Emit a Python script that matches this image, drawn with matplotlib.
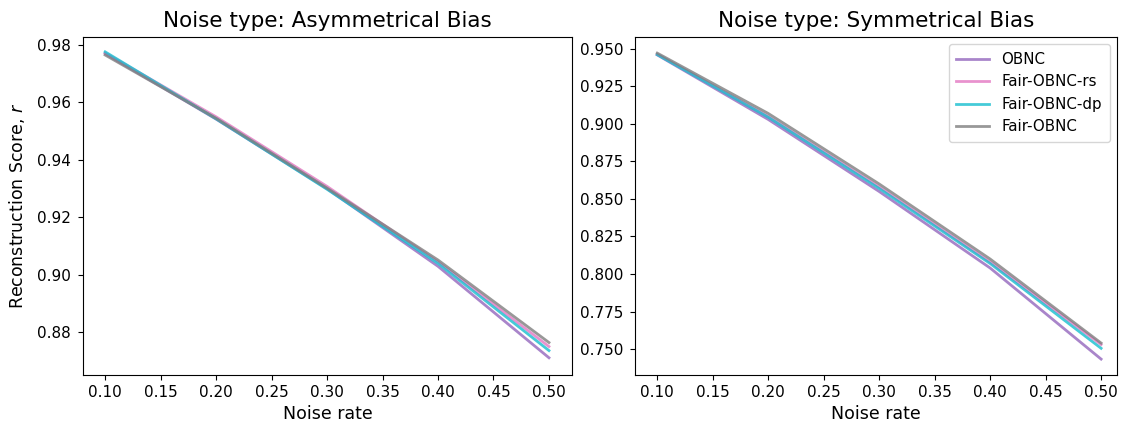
import matplotlib
matplotlib.use("Agg")
import matplotlib.pyplot as plt
from matplotlib.ticker import FormatStrFormatter

noise_rates = [0.1, 0.2, 0.3, 0.4, 0.5]
methods = ["OBNC", "Fair-OBNC-rs", "Fair-OBNC-dp", "Fair-OBNC"]
colors = ["tab:purple", "tab:pink", "tab:cyan", "tab:gray"]

x_ticks = [0.10, 0.15, 0.20, 0.25, 0.30, 0.35, 0.40, 0.45, 0.50]
asym_ticks = [0.88, 0.90, 0.92, 0.94, 0.96, 0.98]
sym_ticks = [0.750, 0.775, 0.800, 0.825, 0.850, 0.875, 0.900, 0.925, 0.950]

# Reconstruction scores, asymmetrical bias
asym_obnc = [0.9770, 0.9542, 0.9300, 0.9030, 0.8712]
asym_rs = [0.9772, 0.9550, 0.9308, 0.9045, 0.8751]
asym_dp = [0.9776, 0.9543, 0.9298, 0.9040, 0.8737]
asym_fair = [0.9765, 0.9545, 0.9302, 0.9052, 0.8765]

# Reconstruction scores, symmetrical bias
sym_obnc = [0.9460, 0.9030, 0.8550, 0.8040, 0.7433]
sym_rs = [0.9465, 0.9050, 0.8580, 0.8080, 0.7530]
sym_dp = [0.9462, 0.9045, 0.8570, 0.8070, 0.7505]
sym_fair = [0.9472, 0.9070, 0.8600, 0.8100, 0.7540]

fig = plt.figure(figsize=(11.21, 4.28), dpi=100)
ax1 = fig.add_axes([0.074, 0.1238, 0.4362, 0.790])
ax2 = fig.add_axes([0.5665, 0.1238, 0.430, 0.790])

panels = [
    (ax1, "Noise type: Asymmetrical Bias", [asym_obnc, asym_rs, asym_dp, asym_fair]),
    (ax2, "Noise type: Symmetrical Bias", [sym_obnc, sym_rs, sym_dp, sym_fair]),
]

for ax, title, series in panels:
    for name, color, vals in zip(methods, colors, series):
        ax.plot(noise_rates, vals, color=color, lw=2, alpha=0.8, label=name)
    ax.set_title(title, fontsize=15.5, pad=7)
    ax.set_xlabel("Noise rate", fontsize=12.5, labelpad=4)
    ax.set_xticks(x_ticks)
    ax.xaxis.set_major_formatter(FormatStrFormatter("%.2f"))
    ax.tick_params(labelsize=11)
    ax.tick_params(axis="y", pad=5)

ax1.set_yticks(asym_ticks)
ax2.set_yticks(sym_ticks)
ax1.set_xlim(0.080, 0.5207)
ax1.set_ylim(0.8652, 0.9828)
ax2.set_xlim(0.080, 0.5144)
ax2.set_ylim(0.7327, 0.9580)

ax1.set_ylabel("Reconstruction Score, $r$", fontsize=12.5, labelpad=7)
ax1.yaxis.set_major_formatter(FormatStrFormatter("%.2f"))
ax2.yaxis.set_major_formatter(FormatStrFormatter("%.3f"))
ax2.legend(loc="upper right", fontsize=10.8, labelspacing=0.5,
           handlelength=2.2, borderpad=0.5, borderaxespad=0.5)

fig.savefig("out.png", dpi=100)
